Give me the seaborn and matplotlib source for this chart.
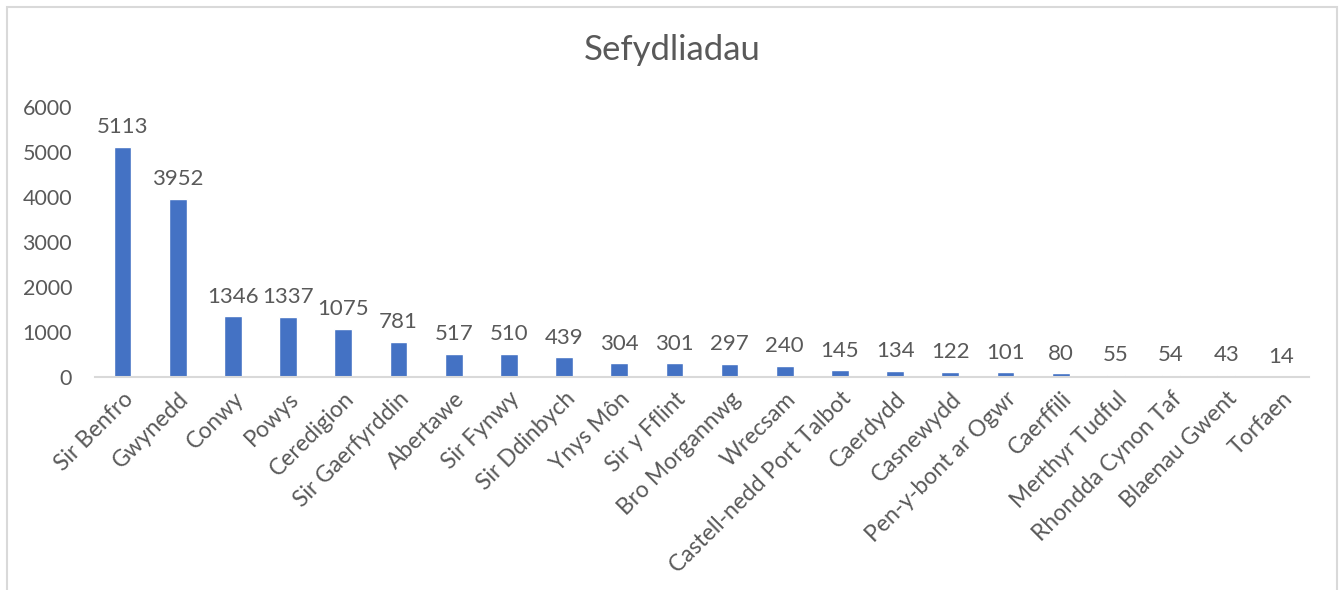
import matplotlib
matplotlib.use("Agg")
import matplotlib.pyplot as plt
import seaborn as sns
import pandas as pd
from matplotlib.patches import Rectangle

categories = ["Sir Benfro", "Gwynedd", "Conwy", "Powys", "Ceredigion", "Sir Gaerfyrddin",
              "Abertawe", "Sir Fynwy", "Sir Ddinbych", "Ynys Môn", "Sir y Fflint",
              "Bro Morgannwg", "Wrecsam", "Castell-nedd Port Talbot", "Caerdydd",
              "Casnewydd", "Pen-y-bont ar Ogwr", "Caerffili", "Merthyr Tudful",
              "Rhondda Cynon Taf", "Blaenau Gwent", "Torfaen"]
values = [5113, 3952, 1346, 1337, 1075, 781, 517, 510, 439, 304, 301, 297, 240,
          145, 134, 122, 101, 80, 55, 54, 43, 14]
yticks = [0, 1000, 2000, 3000, 4000, 5000, 6000]
title = "Sefydliadau"

sns.set_style("white")
plt.rcParams['font.family'] = ['Lato', 'DejaVu Sans']
txt = "#595959"

df = pd.DataFrame({"cat": categories, "val": values})
fig = plt.figure(figsize=(13.44, 5.90), dpi=100)
ax = fig.add_axes([95/1344, 1-377/590, (1309-95)/1344, (377-107)/590])
sns.barplot(data=df, x="cat", y="val", color="#4472C4", saturation=1, width=0.32, ax=ax)
ax.set_ylim(0, 6000)
ax.set_xlim(-0.5, len(categories)-0.5)
ax.set_yticks(yticks)
ax.set_yticklabels([str(t) for t in yticks], fontsize=15.5, color=txt)
ax.set_xticks(range(len(categories)))
ax.set_xticklabels(categories, rotation=45, ha="right", rotation_mode="anchor",
                   fontsize=16.5, color=txt)
ax.tick_params(axis="both", length=0)
ax.tick_params(axis="y", pad=16.5)
ax.tick_params(axis="x", pad=8)
ax.set_xlabel("")
ax.set_ylabel("")
for s in ["top", "right", "left"]:
    ax.spines[s].set_visible(False)
ax.spines["bottom"].set_color("#D9D9D9")
ax.spines["bottom"].set_linewidth(1.5)
for i, v in enumerate(values):
    ax.annotate(str(v), (i, v), xytext=(0, 7), textcoords="offset points",
                ha="center", va="bottom", fontsize=16, color=txt)
fig.text(0.5, 1-50/590, title, ha="center", va="center", fontsize=25, color=txt)
fig.patches.append(Rectangle((7/1344, -0.1), (1337-7)/1344, 1-7/590+0.1,
                             transform=fig.transFigure, fill=False,
                             edgecolor="#D9D9D9", linewidth=1.5))
fig.savefig("out.png", dpi=100)
